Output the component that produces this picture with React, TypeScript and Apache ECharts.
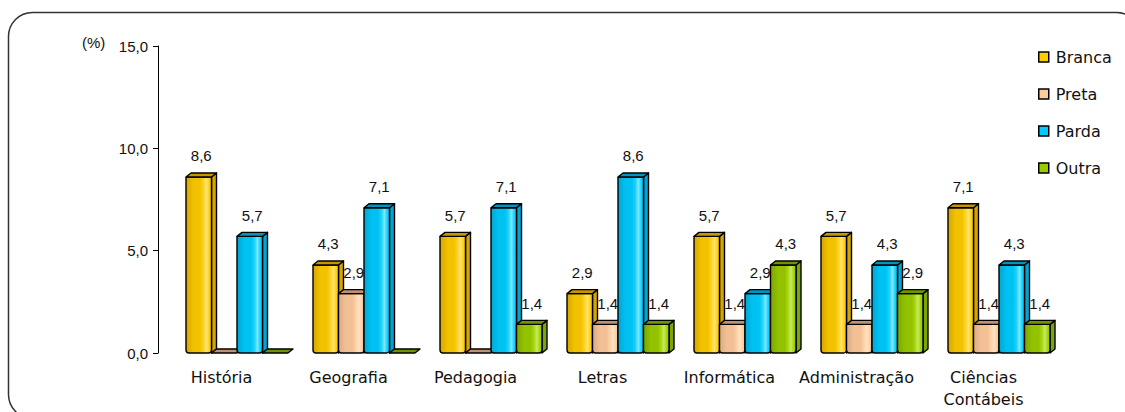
import React, { useEffect, useRef } from "react";
import * as echarts from "echarts";

const categories = [
  "História",
  "Geografia",
  "Pedagogia",
  "Letras",
  "Informática",
  "Administração",
  "Ciências\nContábeis",
];
const seriesNames = ["Branca", "Preta", "Parda", "Outra"];
const branca = [8.6, 4.3, 5.7, 2.9, 5.7, 5.7, 7.1];
const preta = [0, 2.9, 0, 1.4, 1.4, 1.4, 1.4];
const parda = [5.7, 7.1, 7.1, 8.6, 2.9, 4.3, 4.3];
const outra = [0, 0, 1.4, 1.4, 4.3, 2.9, 1.4];
const seriesValues = [branca, preta, parda, outra];
const yMin = 0;
const yMax = 15;
const yInterval = 5;

const palettes = [
  { solid: "#FFCC00", dark: "#D6A500", base: "#F2C200", light: "#FFD21F", hi: "#FFE470", top: "#C69600" },
  { solid: "#FFCC99", dark: "#D9AC85", base: "#F2C094", light: "#FFD1A6", hi: "#FFE2C4", top: "#C09070" },
  { solid: "#00CCFF", dark: "#00A6D2", base: "#00C2F2", light: "#1AD2FF", hi: "#80E6FF", top: "#0094BE" },
  { solid: "#99CC00", dark: "#7CA600", base: "#92C200", light: "#A6D60F", hi: "#C8EA60", top: "#6E9400" },
];

const fmt = (v: number) => v.toFixed(1).replace(".", ",");

const PITCH = 25.5;
const DEPTH_X = 5;
const DEPTH_Y = 4;
const GROUP_SHIFT = 18;
const NUM_FONT = "15px 'Liberation Sans', Arial, sans-serif";
const WIDE_FONT = "'DejaVu Sans', sans-serif";
const TEXT_COLOR = "#111";

function makeRenderItem(sIdx: number) {
  const pal = palettes[sIdx];
  return (params: any, api: any) => {
    const ci = api.value(0);
    const v = api.value(1);
    const base = api.coord([ci, 0]);
    const top = api.coord([ci, v]);
    const groupW = 4 * PITCH + DEPTH_X;
    const x0 = base[0] + GROUP_SHIFT - groupW / 2 + sIdx * PITCH;
    const w = PITCH;
    const yB = base[1];
    const yT = top[1];
    const stroke = { stroke: "#000", lineWidth: 1.4, lineJoin: "round" };
    const children: any[] = [];
    if (yB - yT > 0.5) {
      children.push({
        type: "polygon",
        shape: {
          points: [
            [x0 + w, yT],
            [x0 + w + DEPTH_X, yT - DEPTH_Y],
            [x0 + w + DEPTH_X, yB - DEPTH_Y],
            [x0 + w, yB],
          ],
        },
        style: { fill: pal.dark, ...stroke },
      });
      children.push({
        type: "rect",
        shape: { x: x0, y: yT, width: w, height: yB - yT, r: [0, 0, 3, 3] },
        style: {
          fill: new echarts.graphic.LinearGradient(0, 0, 1, 0, [
            { offset: 0, color: pal.dark },
            { offset: 0.3, color: pal.base },
            { offset: 0.55, color: pal.base },
            { offset: 0.68, color: pal.light },
            { offset: 0.8, color: pal.hi },
            { offset: 0.9, color: pal.light },
            { offset: 1, color: pal.base },
          ]),
          ...stroke,
        },
      });
    }
    children.push({
      type: "polygon",
      shape: {
        points: [
          [x0, yT],
          [x0 + w, yT],
          [x0 + w + DEPTH_X, yT - DEPTH_Y],
          [x0 + DEPTH_X, yT - DEPTH_Y],
        ],
      },
      style: { fill: pal.top, ...stroke },
    });
    if (v > 0) {
      children.push({
        type: "text",
        style: {
          x: x0 + (w + DEPTH_X) / 2,
          y: yT - 21,
          text: fmt(v),
          align: "center",
          verticalAlign: "middle",
          fill: TEXT_COLOR,
          font: NUM_FONT,
        },
      });
    }
    return { type: "group", children };
  };
}

export default function App() {
  const ref = useRef<HTMLDivElement>(null);
  useEffect(() => {
    if (!ref.current) return;
    const chart = echarts.init(ref.current, undefined, { renderer: "svg" });
    chart.setOption({
      animation: false,
      backgroundColor: "#ffffff",
      textStyle: { fontFamily: WIDE_FONT },
      graphic: [
        {
          type: "rect",
          z: -10,
          shape: { x: 8.5, y: 12.5, width: 1132, height: 406, r: 24 },
          style: { fill: "none", stroke: "#333", lineWidth: 1.5 },
        },
        {
          type: "text",
          left: 82,
          top: 35,
          style: { text: "(%)", fill: TEXT_COLOR, font: NUM_FONT },
        },
      ],
      legend: {
        orient: "vertical",
        left: 1033,
        top: 44,
        itemWidth: 10,
        itemHeight: 10,
        itemGap: 21,
        icon: "rect",
        itemStyle: { borderColor: "#000", borderWidth: 1.5 },
        textStyle: {
          fontSize: 16,
          fontFamily: WIDE_FONT,
          color: TEXT_COLOR,
          lineHeight: 16,
          padding: [0, 0, 0, 2],
        },
        data: seriesNames,
      },
      grid: { left: 158, right: 78, top: 46, bottom: 59, containLabel: false },
      xAxis: {
        type: "category",
        data: categories,
        axisLine: { show: false },
        axisTick: { show: false },
        axisLabel: {
          margin: 13,
          fontSize: 16,
          lineHeight: 22,
          color: TEXT_COLOR,
          fontFamily: WIDE_FONT,
          interval: 0,
        },
      },
      yAxis: {
        type: "value",
        min: yMin,
        max: yMax,
        interval: yInterval,
        splitLine: { show: false },
        axisLine: { show: true, lineStyle: { color: "#000", width: 1 } },
        axisTick: { show: true, length: 5, lineStyle: { color: "#000" } },
        axisLabel: {
          formatter: (v: number) => fmt(v),
          fontSize: 15,
          color: TEXT_COLOR,
          fontFamily: "'Liberation Sans', Arial, sans-serif",
          margin: 10,
        },
      },
      series: seriesNames.map((name, sIdx) => ({
        type: "custom",
        name,
        renderItem: makeRenderItem(sIdx),
        itemStyle: { color: palettes[sIdx].solid, borderColor: "#000", borderWidth: 1.5 },
        encode: { x: 0, y: 1 },
        data: seriesValues[sIdx].map((v, i) => [i, v]),
        z: 2 + sIdx,
      })),
    });
    return () => chart.dispose();
  }, []);
  return (
    <div
      ref={ref}
      style={{ position: "fixed", left: 0, top: 0, width: 1125, height: 412 }}
    />
  );
}
